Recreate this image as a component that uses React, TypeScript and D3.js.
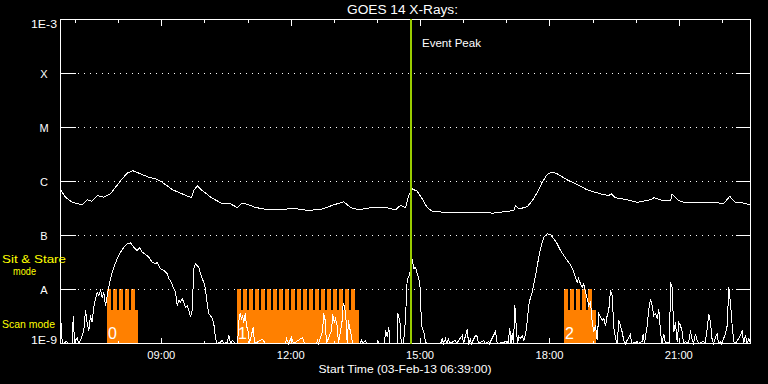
import React from "react";
import * as d3 from "d3";

// ---- data ----
const START = new Date(2013, 1, 3, 6, 39, 0);
const SPAN_MINUTES = 960;
const titleText = "GOES 14 X-Rays:";
const xAxisTitle = "Start Time (03-Feb-13 06:39:00)";
const eventText = "Event Peak";

const yTickValues = [1e-9, 1e-8, 1e-7, 1e-6, 1e-5, 1e-4, 1e-3];
const yTickLabels = ["1E-9", "A", "B", "C", "M", "X", "1E-3"];

// [minutes since start, flux W/m^2] — 1-8 Å channel
const longChannel: [number, number][] = [
  [0, 7.0e-7], [7.0, 5.1e-7], [16.3, 4.1e-7], [30.2, 3.7e-7], [37.1, 4.6e-7], [43.1, 4.3e-7],
  [51.1, 5.5e-7], [60.2, 5.1e-7], [69.6, 5.9e-7], [76.5, 7.8e-7], [85.8, 1.12e-6], [92.8, 1.43e-6],
  [100.6, 1.58e-6], [108.9, 1.43e-6], [122.9, 1.2e-6], [132.2, 1.12e-6], [141.5, 9.7e-7],
  [155.4, 7.1e-7], [169.3, 5.9e-7], [182.3, 5.0e-7], [185.5, 6.8e-7], [190.2, 8.3e-7],
  [197.1, 6.8e-7], [211.1, 4.9e-7], [225.0, 3.9e-7], [234.2, 4.0e-7], [245.8, 3.3e-7],
  [252.8, 4.0e-7], [262.0, 3.7e-7], [271.3, 3.3e-7], [289.8, 3.0e-7], [308.4, 3.0e-7],
  [322.4, 3.2e-7], [345.5, 2.9e-7], [364.1, 3.1e-7], [380.2, 3.7e-7], [394.2, 4.2e-7],
  [403.5, 3.3e-7], [415.0, 3.0e-7], [433.7, 3.3e-7], [452.2, 3.3e-7], [466.1, 3.0e-7],
  [473.0, 3.6e-7], [480.0, 3.3e-7], [484.6, 5.5e-7], [489.3, 7.3e-7], [496.3, 6.6e-7],
  [503.2, 4.8e-7], [510.2, 3.3e-7], [517.1, 2.8e-7], [533.3, 2.7e-7], [565.9, 2.7e-7],
  [602.8, 2.6e-7], [621.5, 2.8e-7], [630.7, 2.9e-7], [633.0, 3.6e-7], [637.6, 3.1e-7],
  [649.3, 3.4e-7], [656.3, 4.4e-7], [663.3, 6.3e-7], [670.2, 9.7e-7], [677.2, 1.35e-6],
  [684.1, 1.49e-6], [691.0, 1.39e-6], [705.0, 1.07e-6], [718.9, 8.8e-7], [732.8, 7.0e-7],
  [751.3, 5.9e-7], [762.8, 5.5e-7], [766.2, 5.9e-7], [772.2, 5.0e-7], [788.4, 4.6e-7],
  [802.4, 4.1e-7], [820.9, 4.6e-7], [825.5, 5.0e-7], [839.4, 4.4e-7], [848.7, 4.4e-7],
  [851.0, 5.9e-7], [860.2, 4.4e-7], [871.8, 4.0e-7], [890.4, 4.0e-7], [908.9, 4.1e-7],
  [922.8, 3.9e-7], [931.1, 5.3e-7], [939.1, 4.1e-7], [946.1, 4.1e-7], [960, 3.7e-7],
];

// [minutes since start, flux W/m^2] — 0.5-4 Å channel (values under 1E-9 sit on the floor)
const shortChannel: [number, number][] = [
  [0, 3.3e-9], [2.4, 1.06e-9], [4.2, 8e-10], [8.3, 1.1e-9], [11.1, 8e-10], [16.3, 8e-10],
  [17.7, 3.2e-9], [19.5, 1.06e-9], [23.2, 1.29e-9], [25.0, 8e-10], [27.8, 1.14e-9],
  [32.4, 1.74e-9], [34.8, 4.08e-9], [37.1, 2.35e-9], [39.4, 1.74e-9], [41.7, 3.3e-9],
  [44.1, 2.48e-9], [46.3, 4.7e-9], [48.7, 6.73e-9], [51.1, 8.9e-9], [53.3, 7.74e-9],
  [55.7, 9.6e-9], [58.0, 7.2e-9], [60.2, 8.9e-9], [62.6, 5.05e-9], [65.0, 7.74e-9],
  [67.2, 1.1e-8], [69.6, 1.58e-8], [71.9, 2.09e-8], [74.2, 2.59e-8], [78.9, 3.7e-8],
  [83.5, 4.91e-8], [88.1, 6.07e-8], [92.8, 7.0e-8], [97.4, 7.3e-8], [102.0, 6.07e-8],
  [106.7, 5.27e-8], [109.9, 5.92e-8], [113.7, 4.91e-8], [118.3, 4.45e-8], [122.9, 3.96e-8],
  [127.6, 3.2e-8], [132.2, 2.99e-8], [134.6, 3.2e-8], [139.1, 2.42e-8], [143.7, 2.25e-8],
  [148.5, 1.95e-8], [150.7, 1.58e-8], [153.0, 1.47e-8], [157.6, 1.03e-8], [160.0, 8.9e-9],
  [162.4, 5.05e-9], [164.6, 6.25e-9], [167.0, 5.82e-9], [169.3, 6.73e-9], [171.5, 5.82e-9],
  [173.9, 4.7e-9], [176.3, 5.05e-9], [178.5, 4.08e-9], [180.9, 3.07e-9], [183.2, 4.08e-9],
  [185.5, 2.42e-8], [187.8, 2.99e-8], [190.2, 2.78e-8], [192.4, 2.59e-8], [194.8, 1.95e-8],
  [197.1, 1.58e-8], [199.4, 1.36e-8], [201.7, 1.03e-8], [204.1, 5.43e-9], [206.3, 3.55e-9],
  [208.7, 3.3e-9], [211.1, 2.87e-9], [213.3, 2.32e-9], [215.7, 1.22e-9], [218.0, 8e-10],
  [222.6, 1.06e-9], [225.0, 1.14e-9], [227.2, 8e-10], [231.9, 1.06e-9], [234.2, 1.41e-9],
  [236.5, 8e-10], [239.3, 1.14e-9], [243.5, 8e-10], [246.3, 8e-10], [248.3, 2.67e-9],
  [250.0, 3.64e-9], [251.8, 2.9e-9], [253.2, 3.3e-9], [255.0, 2.45e-9], [257.0, 3.59e-9],
  [258.8, 2.15e-9], [261.2, 1.62e-9], [263.0, 8e-10], [268.1, 2.0e-9], [269.9, 8e-10],
  [281.0, 1.19e-9], [285.2, 8e-10], [313.0, 8e-10], [314.4, 1.24e-9], [317.2, 8e-10],
  [321.4, 1.29e-9], [324.2, 8e-10], [336.7, 1.29e-9], [339.5, 8e-10], [356.2, 8e-10],
  [357.6, 1.14e-9], [359.0, 8e-10], [364.5, 1.67e-9], [366.3, 3.59e-9], [368.3, 2.67e-9],
  [370.1, 8e-10], [377.0, 1.74e-9], [378.9, 3.44e-9], [380.8, 2.45e-9], [382.6, 2.9e-9],
  [385.0, 2.15e-9], [386.8, 8e-10], [391.9, 2.67e-9], [393.3, 5.5e-9], [395.1, 5.05e-9],
  [396.9, 3.3e-9], [398.9, 8e-10], [400.7, 2.67e-9], [402.5, 1.9e-9], [404.5, 1.41e-9],
  [406.3, 8e-10], [417.4, 8e-10], [418.8, 1.19e-9], [420.2, 8e-10], [424.3, 1.14e-9],
  [425.7, 8e-10], [441.0, 8e-10], [441.7, 1.14e-9], [442.4, 8e-10], [450.8, 8e-10],
  [452.2, 1.74e-9], [454.5, 1.35e-9], [456.8, 1.98e-9], [458.4, 8e-10], [468.5, 8e-10],
  [469.3, 3.59e-9], [471.2, 2.9e-9], [473.0, 2.15e-9], [474.0, 8e-10], [477.2, 8e-10],
  [480.0, 2.9e-9], [482.4, 1.6e-8], [484.6, 1.69e-8], [487.0, 2.25e-8], [489.3, 3.7e-8],
  [491.6, 2.45e-8], [493.9, 2.59e-8], [496.3, 1.95e-8], [498.5, 1.58e-8], [500.9, 9.6e-9],
  [501.9, 2.48e-9], [503.2, 1.9e-9], [505.5, 1.62e-9], [507.8, 1.06e-9], [510.6, 8e-10],
  [529.0, 8e-10], [531.1, 1.24e-9], [532.9, 8e-10], [535.7, 1.24e-9], [537.0, 8e-10],
  [539.9, 1.19e-9], [541.2, 8e-10], [549.6, 1.14e-9], [551.0, 8e-10], [558.9, 1.41e-9],
  [560.7, 8e-10], [565.9, 1.87e-9], [567.7, 8e-10], [570.4, 1.19e-9], [571.8, 8e-10],
  [577.4, 1.41e-9], [579.7, 1.35e-9], [581.6, 8e-10], [588.9, 1.14e-9], [590.6, 8e-10],
  [595.9, 1.09e-9], [596.9, 8e-10], [605.2, 1.67e-9], [607.6, 8e-10], [621.5, 1.09e-9],
  [622.6, 8e-10], [625.1, 1.9e-9], [626.8, 8e-10], [628.4, 1.53e-9], [630.3, 8e-10],
  [632.1, 5.05e-9], [634.0, 2.15e-9], [635.8, 8e-10], [637.6, 1.35e-9], [640.0, 1.24e-9],
  [642.4, 1.41e-9], [644.6, 1.14e-9], [647.0, 1.47e-9], [649.3, 2.48e-9], [651.5, 5.05e-9],
  [653.9, 7.2e-9], [656.3, 8.9e-9], [658.5, 1.28e-8], [660.9, 1.82e-8], [663.3, 2.78e-8],
  [665.5, 3.96e-8], [667.8, 5.67e-8], [670.2, 7.5e-8], [672.4, 9.3e-8], [677.2, 1.07e-7],
  [681.7, 1.04e-7], [686.3, 8.7e-8], [691.0, 7.0e-8], [695.7, 5.27e-8], [700.3, 4.26e-8],
  [705.0, 3.44e-8], [709.6, 2.87e-8], [714.2, 2.09e-8], [718.9, 1.36e-8], [720.7, 1.6e-8],
  [723.5, 1.28e-8], [725.9, 1.1e-8], [728.1, 1.28e-8], [730.4, 8.9e-9], [732.8, 6.73e-9],
  [735.0, 5.05e-9], [737.4, 5.82e-9], [739.8, 2.48e-9], [742.0, 1.62e-9], [744.3, 2.15e-9],
  [746.7, 1.14e-9], [748.9, 3.55e-9], [751.3, 3.07e-9], [753.7, 2.67e-9], [755.9, 2.9e-9],
  [758.3, 2.15e-9], [760.6, 3.3e-9], [762.8, 4.08e-9], [765.2, 9.6e-9], [767.6, 7.74e-9],
  [769.8, 2.0e-9], [772.2, 1.24e-9], [774.5, 8e-10], [776.8, 2.67e-9], [779.1, 2.15e-9],
  [781.5, 1.62e-9], [783.7, 1.14e-9], [786.1, 8e-10], [793.0, 1.51e-9], [794.4, 8e-10],
  [802.4, 1.09e-9], [804.2, 8e-10], [809.3, 1.09e-9], [810.7, 1.51e-9], [812.5, 8e-10],
  [816.3, 2.15e-9], [818.5, 4.39e-9], [820.9, 6.73e-9], [823.2, 5.05e-9], [825.5, 3.3e-9],
  [827.8, 3.59e-9], [830.2, 2.87e-9], [832.4, 4.39e-9], [834.8, 1.62e-9], [836.8, 8e-10],
  [839.4, 1.51e-9], [841.7, 8e-10], [844.1, 1.06e-9], [847.3, 8e-10], [848.7, 1.36e-8],
  [851.0, 1.1e-8], [853.3, 1.62e-9], [855.6, 2.48e-9], [858.0, 1.06e-9], [860.2, 2.48e-9],
  [862.6, 2.15e-9], [865.0, 1.62e-9], [866.8, 8e-10], [869.6, 1.09e-9], [873.7, 8e-10],
  [876.5, 1.74e-9], [878.9, 1.14e-9], [880.7, 8e-10], [883.5, 1.51e-9], [885.8, 1.14e-9],
  [887.7, 8e-10], [895.0, 1.09e-9], [896.7, 8e-10], [899.8, 1.87e-9], [902.0, 3.55e-9],
  [904.3, 2.48e-9], [906.7, 1.14e-9], [908.5, 8e-10], [911.3, 1.31e-9], [913.6, 1.51e-9],
  [915.4, 8e-10], [918.3, 1.09e-9], [919.7, 8e-10], [925.2, 1.51e-9], [927.6, 2.15e-9],
  [929.8, 1.1e-8], [932.2, 5.43e-9], [934.5, 2.15e-9], [936.8, 1.09e-9], [939.1, 8e-10],
  [946.1, 1.41e-9], [948.5, 1.74e-9], [950.3, 8e-10], [953.0, 1.41e-9], [955.1, 8e-10],
  [957.6, 1.24e-9], [960.0, 8e-10],
];

// IRIS observing blocks (minutes since start)
const blockLabels = ["0", "1", "2"];
const blockStarts = [65.4, 246.3, 701.2];
const blockEnds = [108.5, 416.0, 745.7];
const sitStareStarts = [
  65.4, 73.7, 82.1, 90.4, 98.8,
  246.3, 254.6, 263.0, 271.3, 279.7, 288.0, 296.4, 304.7, 313.1, 321.4,
  329.8, 338.1, 346.5, 354.8, 363.2, 371.5, 379.9, 388.2, 396.6, 404.9,
  701.2, 709.5, 717.9, 726.2, 734.6,
];
const sitStareLength = 5.6;
const modeLevels = [0, 1, 2]; // none, scan, sit & stare
const eventPeakMinute = 488.3;

const FONT = "'Liberation Sans', Arial, sans-serif";

export default function App() {
  const W = 768, H = 384;
  const L = 60, R = 750, T = 19, B = 343;
  const at = (m: number) => new Date(START.getTime() + m * 60000);
  const x = d3.scaleTime().domain([at(0), at(SPAN_MINUTES)]).range([L, R]);
  const y = d3.scaleLog().domain([1e-9, 1e-3]).range([B, T]).clamp(true);
  const modeY = d3.scaleLinear().domain(modeLevels).range([y(1e-9), y(4.08e-9), y(1e-8)]);

  const line = d3
    .line<[number, number]>()
    .x((d) => x(at(d[0])))
    .y((d) => y(d[1]));

  const majorTicks = x.ticks(d3.timeHour.every(3)!);
  const minorTicks = x.ticks(d3.timeHour.every(1)!);
  const fmt = d3.timeFormat("%H:%M");

  const labelBaseline = (v: number, i: number) => {
    if (i === 0) return y(v) + 0.5;
    if (i === yTickValues.length - 1) return y(v) + 8.5;
    return y(v) + 4.5;
  };

  const txt = { fill: "#fff", fontSize: 11 };

  return (
    <svg
      width={W}
      height={H}
      style={{ position: "absolute", left: 0, top: 0, background: "#000" }}
      fontFamily={FONT}
    >
      <rect x={0} y={0} width={W} height={H} fill="#000" />

      {/* orange mode blocks */}
      <g fill="#ff8000" shapeRendering="crispEdges">
        {blockStarts.map((s, i) => (
          <rect
            key={"b" + i}
            x={x(at(s))}
            y={modeY(1)}
            width={x(at(blockEnds[i])) - x(at(s))}
            height={modeY(0) - modeY(1)}
          />
        ))}
        {sitStareStarts.map((s, i) => (
          <rect
            key={"s" + i}
            x={x(at(s))}
            y={modeY(2)}
            width={x(at(s + sitStareLength)) - x(at(s))}
            height={modeY(0) - modeY(2)}
          />
        ))}
      </g>
      {blockStarts.map((s, i) => (
        <text key={"bl" + i} x={x(at(s)) + 1} y={339} fill="#fff" fontSize={16}>
          {blockLabels[i]}
        </text>
      ))}

      <g transform="translate(0.5,0.5)" shapeRendering="crispEdges">
        {/* dotted grid */}
        {yTickValues.slice(1, -1).map((v, i) => (
          <line
            key={"g" + i}
            x1={L + 17}
            x2={R - 15}
            y1={Math.round(y(v))}
            y2={Math.round(y(v))}
            stroke="#fff"
            strokeDasharray="1 5"
          />
        ))}
        {/* y ticks both sides */}
        {yTickValues.map((v, i) => (
          <g key={"yt" + i}>
            <line x1={L} x2={L + 15} y1={Math.round(y(v))} y2={Math.round(y(v))} stroke="#fff" />
            <line x1={R - 15} x2={R} y1={Math.round(y(v))} y2={Math.round(y(v))} stroke="#fff" />
          </g>
        ))}
        {/* x ticks top and bottom */}
        {minorTicks.map((d, i) => {
          const major = majorTicks.some((m) => +m === +d);
          const len = major ? 6 : 3;
          const xx = Math.round(x(d));
          return (
            <g key={"xt" + i}>
              <line x1={xx} x2={xx} y1={T} y2={T + len} stroke="#fff" />
              <line x1={xx} x2={xx} y1={B} y2={B - len} stroke="#fff" />
            </g>
          );
        })}

        {/* curves */}
        <path d={line(shortChannel) || ""} fill="none" stroke="#fff" strokeWidth={1} />
        <path d={line(longChannel) || ""} fill="none" stroke="#fff" strokeWidth={1} />

        {/* frame */}
        <rect x={L} y={T} width={R - L} height={B - T} fill="none" stroke="#fff" />
      </g>

      {/* event peak */}
      <line
        x1={x(at(eventPeakMinute))}
        x2={x(at(eventPeakMinute))}
        y1={T}
        y2={B + 1}
        stroke="#99cc00"
        strokeWidth={2}
        shapeRendering="crispEdges"
      />
      <text
        x={x(at(eventPeakMinute)) + 11}
        y={46.5}
        {...txt}
        textLength={59}
        lengthAdjust="spacingAndGlyphs"
      >
        {eventText}
      </text>

      {/* title */}
      <text x={402.5} y={14} fill="#fff" fontSize={12.5} textAnchor="middle" textLength={111} lengthAdjust="spacingAndGlyphs">
        {titleText}
      </text>

      {/* y labels */}
      {yTickValues.map((v, i) => (
        <text
          key={"yl" + i}
          x={44}
          y={labelBaseline(v, i)}
          {...txt}
          textAnchor="middle"
          {...(yTickLabels[i].length > 1 ? { textLength: 26, lengthAdjust: "spacingAndGlyphs" } : {})}
        >
          {yTickLabels[i]}
        </text>
      ))}

      {/* x labels */}
      {majorTicks.map((d, i) => (
        <text key={"xl" + i} x={x(d)} y={359} {...txt} textAnchor="middle" textLength={28} lengthAdjust="spacingAndGlyphs">
          {fmt(d)}
        </text>
      ))}
      <text x={405} y={372.5} {...txt} textAnchor="middle" textLength={173} lengthAdjust="spacingAndGlyphs">
        {xAxisTitle}
      </text>

      {/* mode labels */}
      <text x={2} y={263} fill="#ffff00" fontSize={11} textLength={64} lengthAdjust="spacingAndGlyphs">
        Sit &amp; Stare
      </text>
      <text x={13} y={275} fill="#ffff00" fontSize={11} textLength={23} lengthAdjust="spacingAndGlyphs">
        mode
      </text>
      <text x={2} y={328} fill="#ffff00" fontSize={11} textLength={53} lengthAdjust="spacingAndGlyphs">
        Scan mode
      </text>
    </svg>
  );
}
